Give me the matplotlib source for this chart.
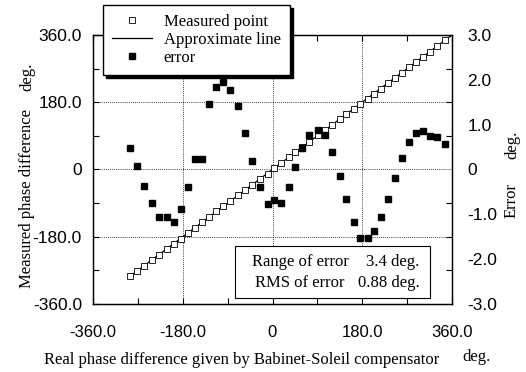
import numpy as np
import matplotlib
matplotlib.use("Agg")
import matplotlib.pyplot as plt
from matplotlib.lines import Line2D
from matplotlib.patches import Rectangle

# ---------------- data ----------------
real_phase = [-286, -272, -257, -242, -227, -212, -197, -184, -170, -156,
              -142, -128, -114, -100, -86, -70, -55, -41, -26, -10,
              4, 18, 33, 46, 60, 74, 91, 105, 119, 135,
              148, 163, 176, 191, 204, 217, 231, 245, 259, 273,
              287, 301, 315, 330, 345]
measured_phase = [-285.5, -271.9, -257.4, -242.8, -228.1, -213.1, -198.2, -184.9, -170.4, -155.8,
                  -141.8, -126.6, -112.2, -98.1, -84.2, -68.6, -54.2, -40.8, -26.4, -10.8,
                  3.3, 17.3, 32.6, 46.1, 60.5, 74.8, 91.9, 105.8, 119.4, 134.9,
                  147.3, 161.8, 174.5, 189.5, 202.6, 215.9, 230.3, 244.8, 259.3, 273.6,
                  287.8, 301.9, 315.8, 330.7, 345.6]
error_deg = [0.49, 0.07, -0.36, -0.75, -1.06, -1.07, -1.17, -0.87, -0.39, 0.24,
             0.23, 1.45, 1.83, 1.95, 1.78, 1.41, 0.82, 0.18, -0.38, -0.78,
             -0.67, -0.74, -0.38, 0.05, 0.48, 0.77, 0.87, 0.76, 0.39, -0.14,
             -0.66, -1.17, -1.52, -1.52, -1.38, -1.07, -0.66, -0.18, 0.26, 0.62,
             0.81, 0.85, 0.75, 0.73, 0.56]

phase_ticks = [-360, -180, 0, 180, 360]
phase_tick_labels = ['-360.0', '-180.0', '0', '180.0', '360.0']
error_ticks = [-3, -2, -1, 0, 1, 2, 3]
error_tick_labels = ['-3.0', '-2.0', '-1.0', '0', '1.0', '2.0', '3.0']

legend_labels = ['Measured point', 'Approximate line', 'error']
stats_labels = ['Range of error', 'RMS of error']
stats_values = ['3.4 deg.', '0.88 deg.']

SERIF = ['Liberation Serif', 'DejaVu Serif']
SANS = ['Liberation Sans', 'DejaVu Sans']

fig = plt.figure(figsize=(5.26, 3.72), dpi=100)
ax = fig.add_axes([93/526, 68/372, 359/526, 269/372])
ax2 = ax.twinx()

# approximate line (least-squares fit)
slope, intercept = np.polyfit(real_phase, measured_phase, 1)
xfit = np.array([real_phase[0], phase_ticks[-1]])
ax.plot(xfit, slope * xfit + intercept, color='black', lw=0.9, zorder=3)
ax.plot(real_phase, measured_phase, ls='none', marker='s', ms=4.2,
        mfc='white', mec='black', mew=0.6, zorder=4)

ax2.plot(real_phase, error_deg, ls='none', marker='s', ms=4.6,
         mfc='black', mec='black', zorder=4)

ax.set_xlim(-360, 360)
ax.set_ylim(-360, 360)
ax2.set_ylim(-3, 3)

ax.set_xticks(phase_ticks)
ax.set_xticklabels(phase_tick_labels, fontfamily=SANS, fontsize=12)
ax.set_yticks(phase_ticks)
ax.set_yticklabels(phase_tick_labels, fontfamily=SANS, fontsize=12.5)
ax.set_xticks(np.arange(-270, 361, 180), minor=True)
ax.set_yticks(np.arange(-270, 361, 180), minor=True)
ax.tick_params(axis='both', which='both', direction='in', length=4, width=0.8)
ax.tick_params(axis='x', which='both', top=True, pad=15)
ax.tick_params(axis='y', which='both', right=False, pad=8)

ax2.set_yticks(error_ticks)
ax2.set_yticklabels(error_tick_labels, fontfamily=SANS, fontsize=12.5)
ax2.set_yticks(np.arange(-2.25, 2.3, 0.75), minor=True)
ax2.tick_params(axis='y', which='major', length=0, pad=11)
ax2.tick_params(axis='y', which='minor', direction='in', length=4, width=0.8)

ax.grid(True, which='major', ls=(0, (1, 1.5)), color='black', lw=0.6)
for a in (ax, ax2):
    for s in a.spines.values():
        s.set_linewidth(0.9)

# stats box
ax.add_patch(Rectangle((0.3955, 0.022), 0.543, 0.194, transform=ax.transAxes,
                       fill=True, facecolor='white', edgecolor='black', lw=0.8, zorder=5))
for lab, val, yy in zip(stats_labels, stats_values, [0.156, 0.078]):
    ax.text(0.577, yy, lab, transform=ax.transAxes, ha='center', va='center',
            fontfamily=SERIF, fontsize=12, zorder=6)
    ax.text(0.91, yy, val, transform=ax.transAxes, ha='right', va='center',
            fontfamily=SERIF, fontsize=12, zorder=6)

# legend
handles = [Line2D([], [], ls='none', marker='s', ms=4.2, mfc='white', mec='black', mew=0.6),
           Line2D([], [], color='black', lw=0.9),
           Line2D([], [], ls='none', marker='s', ms=4.6, mfc='black', mec='black')]
leg = fig.legend(handles, legend_labels, loc='upper left',
                 bbox_to_anchor=(103/526, 1 - 5/372), borderaxespad=0,
                 prop={'family': SERIF, 'size': 12}, frameon=True, fancybox=False,
                 shadow={'color': 'black', 'alpha': 1}, labelspacing=0.12,
                 handlelength=2.4, handletextpad=0.7, borderpad=0.55)
leg.get_frame().set_edgecolor('black')
leg.get_frame().set_linewidth(1.0)
leg.get_frame().set_alpha(1)

# axis labels
fig.text(242/526, 1 - 360/372, 'Real phase difference given by Babinet-Soleil compensator',
         ha='center', va='center', fontfamily=SERIF, fontsize=12)
fig.text(477/526, 1 - 357/372, 'deg.', ha='center', va='center', fontfamily=SERIF, fontsize=12)
fig.text(27/526, 1 - 199/372, 'Measured phase difference', rotation=90,
         ha='center', va='center', fontfamily=SERIF, fontsize=12)
fig.text(27/526, 1 - 77/372, 'deg.', rotation=90, ha='center', va='center',
         fontfamily=SERIF, fontsize=12)
fig.text(512/526, 1 - 200/372, 'Error', rotation=90, ha='center', va='center',
         fontfamily=SERIF, fontsize=12)
fig.text(512/526, 1 - 145/372, 'deg.', rotation=90, ha='center', va='center',
         fontfamily=SERIF, fontsize=12)

fig.savefig('out.png', dpi=100)
